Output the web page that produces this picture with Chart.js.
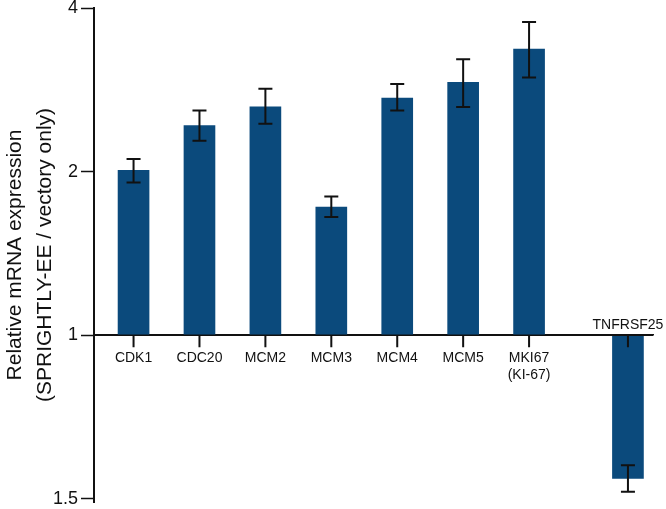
<!DOCTYPE html>
<html>
<head>
<meta charset="utf-8">
<script src="https://cdn.jsdelivr.net/npm/chart.js@4/dist/chart.umd.min.js"></script>
<style>
  html, body { margin: 0; background: #fff; }
  #wrap { width: 666px; height: 509px; }
</style>
</head>
<body>
<div id="wrap"><canvas id="myChart"></canvas></div>
<script>
(() => {
  'use strict'

  // fold change vs vector only
  const genes = ['CDK1', 'CDC20', 'MCM2', 'MCM3', 'MCM4', 'MCM5', ['MKI67', '(KI-67)'], 'TNFRSF25']
  const foldChange = [2.01, 2.43, 2.63, 1.72, 2.73, 2.92, 3.36, 0.545]
  const errHigh = [2.11, 2.59, 2.84, 1.80, 2.90, 3.22, 3.77, 0.576]
  const errLow = [1.91, 2.28, 2.45, 1.65, 2.59, 2.63, 2.98, 0.515]
  const yTickValues = [4, 2, 1, 0.5]
  const yTickLabels = ['4', '2', '1', '1.5']

  const FONT = '"Liberation Sans", Arial, sans-serif'
  const INK = '#111111'
  const BAR = '#0b4a7c'
  const X_TICK = 12

  // down-regulated genes sit a half slot further right
  const slots = genes.map((g, i) => i + (foldChange[i] < 1 ? 0.5 : 0))
  const log2 = v => Math.log(v) / Math.LN2

  const errorBars = {
    id: 'errorBars',
    afterDraw (chart) {
      const { ctx, scales: { x, y } } = chart
      const meta = chart.getDatasetMeta(0)
      const base = y.getPixelForValue(0)
      ctx.save()
      ctx.strokeStyle = INK
      ctx.lineWidth = 2
      ctx.beginPath()
      meta.data.forEach((bar, i) => {
        const top = y.getPixelForValue(log2(errHigh[i]))
        const bot = y.getPixelForValue(log2(errLow[i]))
        ctx.moveTo(bar.x, top); ctx.lineTo(bar.x, bot)
        ctx.moveTo(bar.x - 7, top); ctx.lineTo(bar.x + 7, top)
        ctx.moveTo(bar.x - 7, bot); ctx.lineTo(bar.x + 7, bot)
      })
      // category tick marks hang below the baseline, over the bars
      slots.forEach(s => {
        const px = x.getPixelForValue(s)
        ctx.moveTo(px, base); ctx.lineTo(px, base + X_TICK)
      })
      ctx.stroke()
      // baseline drawn again on top of the bars
      ctx.lineWidth = 1.5
      ctx.beginPath()
      ctx.moveTo(x.left, base); ctx.lineTo(x.right, base)
      ctx.stroke()
      // labels of down-regulated genes go above the axis line
      ctx.fillStyle = INK
      ctx.font = '14px ' + FONT
      ctx.textAlign = 'center'
      ctx.textBaseline = 'bottom'
      meta.data.forEach((bar, i) => {
        if (foldChange[i] < 1) ctx.fillText(genes[i], bar.x, base - 3)
      })
      ctx.restore()
    }
  }

  // eslint-disable-next-line no-unused-vars
  const myChart = new Chart(document.getElementById('myChart'), {
    type: 'bar',
    data: {
      datasets: [{
        data: foldChange.map((v, i) => ({ x: slots[i], y: [0, log2(v)] })),
        backgroundColor: BAR,
        borderWidth: 0,
        barThickness: 31
      }]
    },
    options: {
      responsive: true,
      maintainAspectRatio: false,
      animation: false,
      layout: { padding: { top: 8, right: 13, bottom: 7, left: 0 } },
      plugins: {
        legend: { display: false },
        tooltip: { enabled: false }
      },
      scales: {
        x: {
          type: 'linear',
          position: { y: 0 },
          offset: false,
          min: -0.6,
          max: 7.88,
          afterBuildTicks: scale => { scale.ticks = slots.map(v => ({ value: v })) },
          afterFit: scale => { scale.paddingLeft = 0; scale.paddingRight = 0 },
          grid: {
            offset: false,
            drawOnChartArea: false,
            drawTicks: false
          },
          border: { color: INK, width: 1.5 },
          ticks: {
            autoSkip: false,
            maxRotation: 0,
            padding: X_TICK + 3,
            color: INK,
            font: { family: FONT, size: 14 },
            callback: (v, i) => foldChange[i] < 1 ? '' : genes[i]
          }
        },
        y: {
          type: 'linear',
          min: -1.02,
          max: 2,
          afterBuildTicks: scale => {
            scale.ticks = yTickValues.map(v => ({ value: Math.max(log2(v), scale.min) }))
          },
          afterFit: scale => {
            scale.width = 94
            scale.paddingTop = 0
            scale.paddingBottom = 0
          },
          grid: {
            drawOnChartArea: false,
            tickLength: 13,
            tickWidth: 1.5,
            tickColor: INK
          },
          border: { color: INK, width: 2 },
          ticks: {
            padding: 3,
            color: INK,
            font: { family: FONT, size: 18 },
            callback: (v, i) => yTickLabels[i]
          },
          title: {
            display: true,
            text: ['Relative mRNA expression', '(SPRIGHTLY-EE / vectory only)'],
            color: INK,
            font: { family: FONT, size: 21, lineHeight: 1.45 },
            padding: { top: 0, bottom: 0 }
          }
        }
      }
    },
    plugins: [errorBars]
  })
})()
</script>
</body>
</html>
